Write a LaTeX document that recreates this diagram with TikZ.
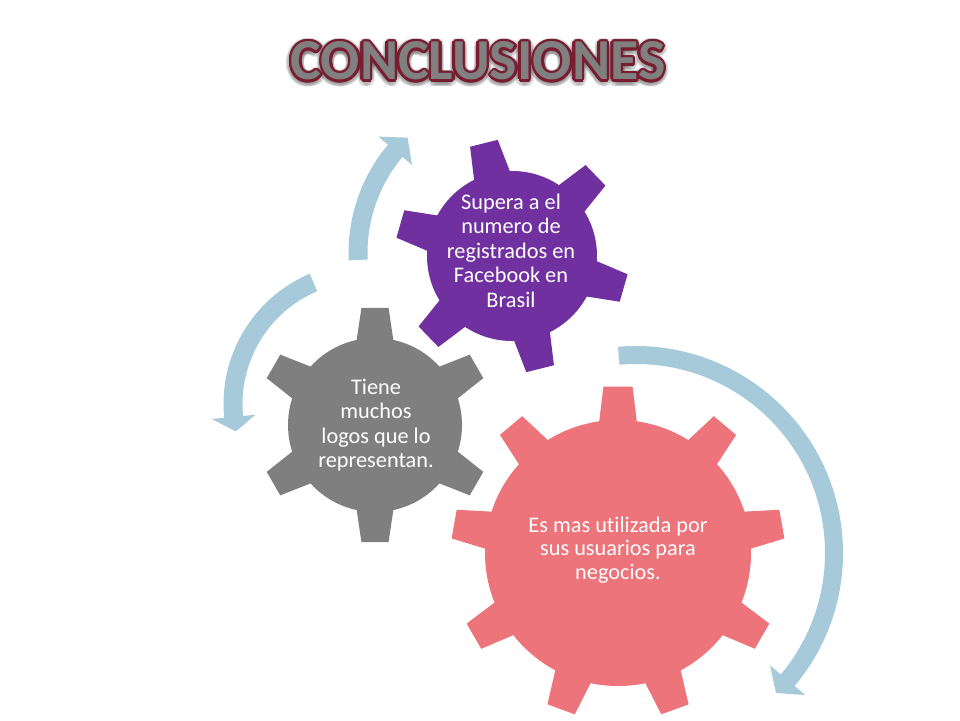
\documentclass[tikz,border=0pt]{standalone}
\usepackage{fontspec}
\setmainfont{Carlito}[Ligatures=CommonOff]
\usetikzlibrary{calc}
\definecolor{gearpurple}{RGB}{112,48,160}
\definecolor{geargray}{RGB}{127,127,127}
\definecolor{gearpink}{RGB}{236,116,122}
\definecolor{arrowblue}{RGB}{167,202,219}
\definecolor{titlered}{RGB}{122,28,48}
\definecolor{titlegray}{RGB}{128,128,128}
\tikzset{
  geartext/.style={text=white, align=center, inner sep=0pt, font=\fontsize{22.3}{24.5}\selectfont},
  titletext/.style={anchor=base, inner sep=0pt, font=\fontsize{58}{60}\selectfont\bfseries},
  arrowfill/.style={fill=arrowblue},
}
% center, teeth, first angle, body r, tip r, base half angle, tip half angle, colour
\newcommand\gearfill[8]{%
  \begin{scope}[shift={(#1)}]
    \fill[#8] (0,0) circle[radius=#4];
    \foreach \k in {1,...,#2}{%
      \pgfmathsetmacro\gang{#3+360/#2*(\k-1)}%
      \pgfmathsetmacro\gin{#4-4}%
      \fill[#8] ({\gang-#6}:\gin) -- ({\gang-#7}:#5) -- ({\gang+#7}:#5) -- ({\gang+#6}:\gin) -- cycle;
    }
  \end{scope}}
% center, radius, start, band end, tip, half thickness, half head, style
\newcommand\circarrow[8]{%
  \pgfmathsetmacro\ari{#2-#6}\pgfmathsetmacro\aro{#2+#6}%
  \pgfmathsetmacro\ahi{#2-#7}\pgfmathsetmacro\aho{#2+#7}%
  \begin{scope}[shift={(#1)}]
    \fill[#8] (#3:\ari) arc[start angle=#3, end angle=#4, radius=\ari] -- (#4:\ahi) -- (#5:#2) -- (#4:\aho) -- (#4:\aro) arc[start angle=#4, end angle=#3, radius=\aro] -- cycle;
  \end{scope}}
\begin{document}
\begin{tikzpicture}[x=1pt,y=1pt]
\fill[white] (0,0) rectangle (960,720);
\useasboundingbox (0,0) rectangle (960,720);
% centres
\coordinate (pinkc) at (618,167);
\coordinate (grayc) at (375,295);
\coordinate (purplec) at (512,464);
\coordinate (bigarc) at (636,167);
\coordinate (toparc) at (517,467);
\coordinate (leftarc) at (365,316);
% circular arrows
\circarrow{bigarc}{198}{95}{-40}{-45}{9}{23}{arrowfill}
\circarrow{toparc}{159}{182.5}{140}{133.5}{9.5}{22}{arrowfill}
\circarrow{leftarc}{132}{113}{185.6}{192}{9.5}{22}{arrowfill}
% gears
\gearfill{purplec}{6}{44}{85}{117}{13.5}{7.0}{gearpurple}
\gearfill{grayc}{6}{90}{87}{118}{13.2}{6.6}{geargray}
\gearfill{pinkc}{9}{90}{133}{167}{8.6}{5.0}{gearpink}
% texts
\node[geartext] (purpletext) at (511,469.5) {Supera a el\\numero de\\registrados en\\Facebook en\\Brasil};
\node[geartext] (graytext) at (376,295) {Tiene\\muchos\\logos que lo\\representan.};
\node[geartext, font=\fontsize{22.3}{23.4}\selectfont] (pinktext) at (618,170) {Es mas utilizada por\\sus usuarios para\\negocios.};
% title
\coordinate (titlepos) at (478,640);
\foreach \a [count=\i] in {0,22.5,...,337.5}{
  \node[titletext, text=black, opacity=0.08] (titleglow\i) at ($(titlepos)+(\a:5)+(0,-1.5)$) {CONCLUSIONES};
}
\foreach \a [count=\i] in {0,22.5,...,337.5}{
  \node[titletext, text=titlered] (titleline\i) at ($(titlepos)+(\a:2.5)$) {CONCLUSIONES};
}
\node[titletext, text=titlegray] (title) at (titlepos) {CONCLUSIONES};
\end{tikzpicture}
\end{document}
